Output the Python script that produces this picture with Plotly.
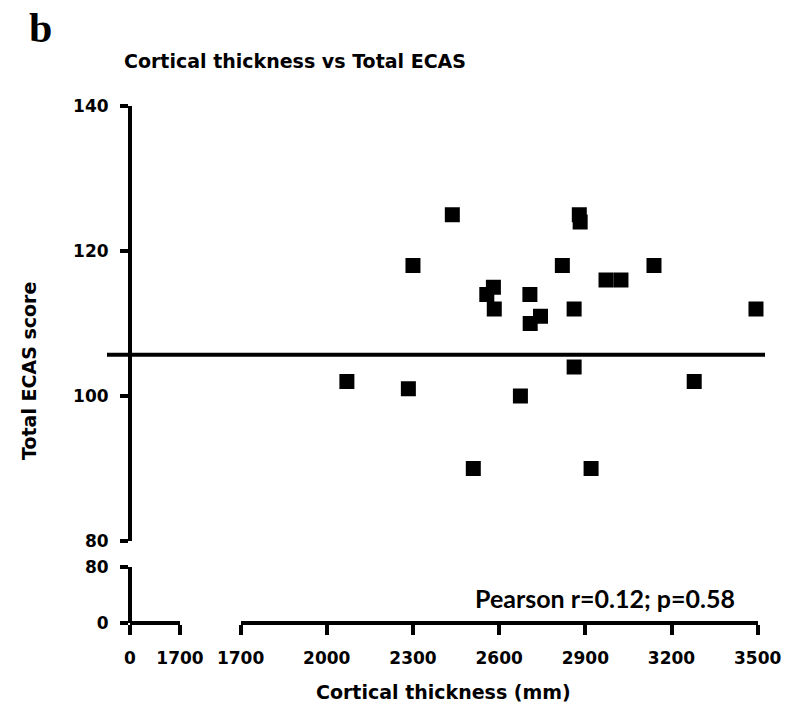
import plotly.graph_objects as go

# ---- data ----
thickness = [2437, 2879, 2882, 2300, 2820, 3139, 2972, 3024, 2580, 2557, 2583, 2707,
             2744, 2708, 2861, 3494, 2861, 2070, 2284, 2674, 3279, 2510, 2920]
ecas = [125, 125, 124, 118, 118, 118, 116, 116, 115, 114, 112, 114,
        111, 110, 112, 112, 104, 102, 101, 100, 102, 90, 90]
cutoff = 105.7
x_ticks_main = [1700, 2000, 2300, 2600, 2900, 3200, 3500]
x_ticks_low = [0, 1700]
y_ticks_main = [80, 100, 120, 140]
y_ticks_low = [0, 80]

W, H = 788, 707
def px(x):
    return x / W
def py(y):
    return 1 - y / H

SANS = "DejaVu Sans, Liberation Sans, Arial"
tick_font = dict(family=SANS, size=17, color="black", weight="bold")
LW = 4

fig = go.Figure()
fig.add_trace(go.Scatter(x=thickness, y=ecas, mode="markers", xaxis="x", yaxis="y",
                         marker=dict(symbol="square", size=15, color="black"),
                         cliponaxis=False, showlegend=False, hoverinfo="x+y"))
for xa, ya in [("x2", "y2"), ("x3", "y3"), ("x4", "y4"), ("x2", "y"), ("x", "y2")]:
    fig.add_trace(go.Scatter(x=[], y=[], xaxis=xa, yaxis=ya, showlegend=False))

xpos = py(623.3)
ypos = px(130)
common = dict(showgrid=False, zeroline=False, linecolor="black", linewidth=LW,
              tickcolor="black", tickwidth=LW, tickfont=tick_font, automargin=False)

fig.update_layout(
    template="none",
    width=W, height=H, margin=dict(l=0, r=0, t=0, b=0, pad=0),
    plot_bgcolor="white", paper_bgcolor="white",
    xaxis=dict(domain=[px(240.6), px(757.7)], range=[1700, 3500], anchor="free", position=xpos,
               tickvals=x_ticks_main, ticks="outside", ticklen=10, showline=True,
               ticklabelstandoff=8, **common),
    xaxis2=dict(domain=[px(130), px(180)], range=[0, 1700], anchor="free", position=xpos,
                tickvals=x_ticks_low, ticks="outside", ticklen=10, showline=True,
                ticklabelstandoff=8, **common),
    xaxis3=dict(overlaying="x", range=[1700, 3500], anchor="free", position=xpos,
                tickvals=[1700], ticks="inside", ticklen=8, showline=False,
                showticklabels=False, **common),
    xaxis4=dict(overlaying="x2", range=[0, 1700], anchor="free", position=xpos,
                tickvals=[1700], ticks="inside", ticklen=8, showline=False,
                showticklabels=False, **common),
    yaxis=dict(domain=[py(541), py(106)], range=[80, 140], anchor="free", position=ypos,
               tickvals=y_ticks_main, ticks="outside", ticklen=8, showline=True,
               ticklabelstandoff=8, **common),
    yaxis2=dict(domain=[py(623.3), py(566.7)], range=[0, 80], anchor="free", position=ypos,
                tickvals=y_ticks_low, ticks="outside", ticklen=8, showline=True,
                ticklabelstandoff=8, **common),
    yaxis3=dict(overlaying="y", range=[80, 140], anchor="free", position=ypos,
                tickvals=[80], ticks="inside", ticklen=8, showline=False,
                showticklabels=False, **common),
    yaxis4=dict(overlaying="y2", range=[0, 80], anchor="free", position=ypos,
                tickvals=[80], ticks="inside", ticklen=8, showline=False,
                showticklabels=False, **common),
)

fig.add_shape(type="line", xref="paper", yref="y", x0=px(107), x1=px(765), y0=cutoff, y1=cutoff,
              line=dict(color="black", width=LW))

ann = [
    dict(text="b", x=px(40), y=py(28), font=dict(family="Liberation Serif, Times New Roman", size=42, color="black", weight="bold")),
    dict(text="Cortical thickness vs Total ECAS", x=px(295), y=py(61),
         font=dict(family=SANS, size=19, color="black", weight="bold")),
    dict(text="Total ECAS score", x=px(29), y=py(371), textangle=-90,
         font=dict(family=SANS, size=19, color="black", weight="bold")),
    dict(text="Cortical thickness (mm)", x=px(443), y=py(692),
         font=dict(family=SANS, size=19, color="black", weight="bold")),
    dict(text="Pearson r=0.12; p=0.58", x=px(605), y=py(598),
         font=dict(family="Lato, Open Sans", size=25, color="black", weight="bold")),
]
for a in ann:
    fig.add_annotation(xref="paper", yref="paper", showarrow=False, xanchor="center", yanchor="middle", **a)

fig.write_html("out.html")
